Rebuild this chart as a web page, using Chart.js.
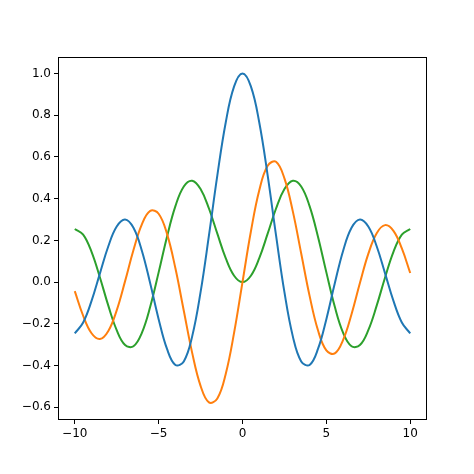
<!DOCTYPE html>
<html>
<head>
<script src="https://cdn.jsdelivr.net/npm/chart.js@4/dist/chart.umd.min.js"></script>
<style>
  html, body { margin: 0; padding: 0; background: #fff; }
  #wrap { position: absolute; left: 0; top: 0; width: 474px; height: 474px; }
</style>
</head>
<body>
<div id="wrap"><canvas id="c" width="474" height="474"></canvas></div>
<script>
const xs = [-10,-9.5,-9,-8.5,-8,-7.5,-7,-6.5,-6,-5.5,-5,-4.5,-4,-3.5,-3,-2.5,-2,-1.5,-1,-0.5,
  0,0.5,1,1.5,2,2.5,3,3.5,4,4.5,5,5.5,6,6.5,7,7.5,8,8.5,9,9.5,10];
const blue = [-0.2459,-0.1939,-0.0903,0.0419,0.1717,0.2663,0.3001,0.2601,0.1506,-0.0068,-0.1776,
  -0.3205,-0.3971,-0.3801,-0.2601,-0.0484,0.2239,0.5118,0.7652,0.9385,
  1.0,0.9385,0.7652,0.5118,0.2239,-0.0484,-0.2601,-0.3801,-0.3971,-0.3205,-0.1776,
  -0.0068,0.1506,0.2601,0.3001,0.2663,0.1717,0.0419,-0.0903,-0.1939,-0.2459];
const orange = [-0.0435,-0.1613,-0.2453,-0.2731,-0.2346,-0.1352,0.0047,0.1538,0.2767,0.3414,0.3276,
  0.2311,0.0660,-0.1374,-0.3391,-0.4971,-0.5767,-0.5579,-0.4401,-0.2423,
  0,0.2423,0.4401,0.5579,0.5767,0.4971,0.3391,0.1374,-0.0660,-0.2311,-0.3276,
  -0.3414,-0.2767,-0.1538,-0.0047,0.1352,0.2346,0.2731,0.2453,0.1613,0.0435];
const green = [0.2546,0.2279,0.1448,0.0223,-0.1130,-0.2303,-0.3014,-0.3074,-0.2429,-0.1173,0.0466,
  0.2178,0.3641,0.4586,0.4861,0.4461,0.3528,0.2321,0.1149,0.0306,
  0,0.0306,0.1149,0.2321,0.3528,0.4461,0.4861,0.4586,0.3641,0.2178,0.0466,
  -0.1173,-0.2429,-0.3074,-0.3014,-0.2303,-0.1130,0.0223,0.1448,0.2279,0.2546];
const xTicks = [-10, -5, 0, 5, 10];
const yTicks = [-0.6, -0.4, -0.2, 0, 0.2, 0.4, 0.6, 0.8, 1.0];

const pts = ys => xs.map((x, i) => ({x: x, y: ys[i]}));
const line = (ys, color) => ({
  data: pts(ys), borderColor: color, borderWidth: 2, pointRadius: 0,
  tension: 0.4, fill: false
});

const frame = {
  id: 'frame',
  afterDraw(chart) {
    const a = chart.chartArea, ctx = chart.ctx;
    ctx.save();
    ctx.strokeStyle = '#000';
    ctx.lineWidth = 1;
    ctx.strokeRect(a.left + 0.5, a.top + 0.5, a.right - a.left - 1, a.bottom - a.top - 1);
    ctx.restore();
  }
};

const minus = v => String(v).replace('-', '\u2212');

new Chart(document.getElementById('c'), {
  type: 'line',
  data: { datasets: [line(blue, '#1f77b4'), line(orange, '#ff7f0e'), line(green, '#2ca02c')] },
  options: {
    responsive: false, animation: false, devicePixelRatio: 1,
    layout: { padding: { top: 57, right: 47, left: 0, bottom: 0 } },
    plugins: { legend: { display: false }, tooltip: { enabled: false } },
    scales: {
      x: {
        type: 'linear', min: -11, max: 11,
        afterBuildTicks: ax => { ax.ticks = xTicks.map(v => ({value: v})); },
        afterFit: ax => { ax.height = 54; },
        grid: { drawOnChartArea: false, drawTicks: true, tickLength: 4, color: '#000' },
        border: { display: false },
        ticks: { color: '#000', padding: 3, font: { family: 'DejaVu Sans', size: 12 },
          callback: v => minus(v), maxRotation: 0 }
      },
      y: {
        type: 'linear', min: -0.661, max: 1.079,
        afterBuildTicks: ax => { ax.ticks = yTicks.map(v => ({value: v})); },
        afterFit: ax => { ax.width = 58; },
        grid: { drawOnChartArea: false, drawTicks: true, tickLength: 4, color: '#000' },
        border: { display: false },
        ticks: { color: '#000', padding: 3, font: { family: 'DejaVu Sans', size: 12 },
          callback: v => minus(v.toFixed(1)) }
      }
    }
  },
  plugins: [frame]
});
</script>
</body>
</html>
